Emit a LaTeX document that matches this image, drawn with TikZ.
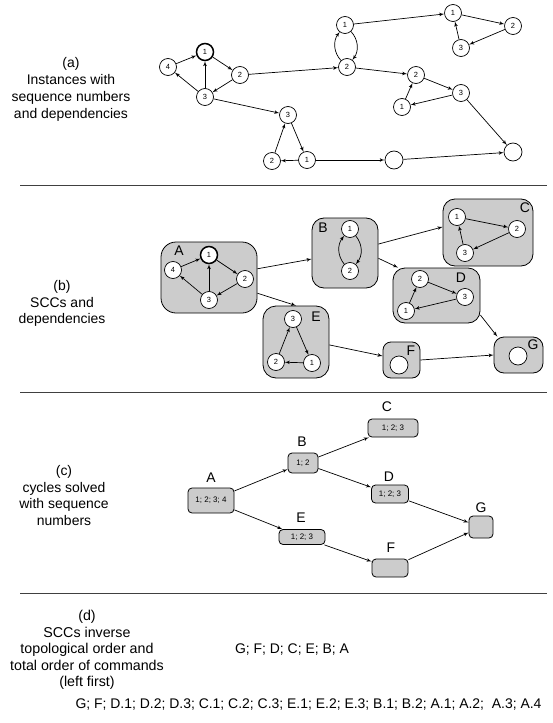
\documentclass[tikz,border=0pt]{standalone}
\usepackage{fontspec}
\setmainfont{Liberation Sans}
\usetikzlibrary{arrows}
\tikzset{vertex/.style = {shape=circle,draw,fill=white,minimum size=17bp,inner sep=0pt,line width=0.7bp,font=\fontsize{7.5}{9}\selectfont}}
\tikzset{rootvertex/.style = {vertex,line width=1.5bp}}
\tikzset{edge/.style = {->,> = latex',line width=0.7bp}}
\tikzset{scc/.style = {shape=rectangle,draw,fill=black!20,rounded corners=12bp,inner sep=0pt,line width=0.8bp}}
\tikzset{solved/.style = {shape=rectangle,draw,fill=black!20,rounded corners=4bp,inner sep=0pt,line width=0.8bp,font=\fontsize{8}{9}\selectfont}}
\tikzset{sectext/.style = {align=center,inner sep=0pt,font=\fontsize{14}{16.8}\selectfont}}
\tikzset{scclabel/.style = {inner sep=0pt,font=\fontsize{14}{17}\selectfont}}
\tikzset{separator/.style = {line width=1bp,black!75}}

\begin{document}
\begin{tikzpicture}[x=1bp,y=-1bp]
\useasboundingbox (0,0) rectangle (553,723);

% (a)
\node[sectext] (texta) at (71,89.5) {(a)\\Instances with\\sequence numbers\\and dependencies};

\node[vertex] (iA4) at (168,67) {4};
\node[rootvertex] (iA1) at (205,52) {1};
\node[vertex] (iA2) at (240,75) {2};
\node[vertex] (iA3) at (205,97) {3};
\node[vertex] (iB1) at (345,25) {1};
\node[vertex] (iB2) at (347,67) {2};
\node[vertex] (iC1) at (453,13) {1};
\node[vertex] (iC2) at (513,26) {2};
\node[vertex] (iC3) at (461,48) {3};
\node[vertex] (iD2) at (416,75) {2};
\node[vertex] (iD3) at (461,93) {3};
\node[vertex] (iD1) at (402,107) {1};
\node[vertex] (iE3) at (288,115) {3};
\node[vertex] (iE2) at (272,161) {2};
\node[vertex] (iE1) at (307,160) {1};
\node[vertex,minimum size=18bp] (iF) at (394,160) {};
\node[vertex,minimum size=18bp] (iG) at (513,152) {};

\draw[edge] (iA4) -- (iA1);
\draw[edge] (iA1) -- (iA2);
\draw[edge] (iA2) -- (iA3);
\draw[edge] (iA3) -- (iA4);
\draw[edge] (iA3) -- (iA1);
\draw[edge] (iA2) -- (iB2);
\draw[edge] (iA3) -- (iE3);
\draw[edge] (iB1) to[bend left=40] (iB2);
\draw[edge] (iB2) to[bend left=40] (iB1);
\draw[edge] (iB1) -- (iC1);
\draw[edge] (iC1) -- (iC2);
\draw[edge] (iC2) -- (iC3);
\draw[edge] (iC3) -- (iC1);
\draw[edge] (iB2) -- (iD2);
\draw[edge] (iD2) -- (iD3);
\draw[edge] (iD3) -- (iD1);
\draw[edge] (iD1) -- (iD2);
\draw[edge] (iE3) -- (iE1);
\draw[edge] (iE1) -- (iE2);
\draw[edge] (iE2) -- (iE3);
\draw[edge] (iE1) -- (iF);
\draw[edge] (iF) -- (iG);
\draw[edge] (iD3) -- (iG);

\draw[separator] (20,185) -- (547,185);

% (b)
\node[sectext] (textb) at (62,303.5) {(b)\\SCCs and\\dependencies};

\node[scc,minimum width=96bp,minimum height=71bp,rounded corners=15bp] (boxA) at (209,277.5) {};
\node[scc,minimum width=66bp,minimum height=70bp] (boxB) at (345,253) {};
\node[scc,minimum width=90bp,minimum height=67bp] (boxC) at (488,232.5) {};
\node[scc,minimum width=87bp,minimum height=55bp] (boxD) at (436.5,295.5) {};
\node[scc,minimum width=66bp,minimum height=72bp,rounded corners=13bp] (boxE) at (296,342) {};
\node[scc,minimum width=37bp,minimum height=36bp,rounded corners=8bp] (boxF) at (401.5,360) {};
\node[scc,minimum width=49bp,minimum height=36bp,rounded corners=10bp] (boxG) at (518.5,355) {};

\node[scclabel] (labA) at (179,251) {A};
\node[scclabel] (labB) at (323,228) {B};
\node[scclabel] (labC) at (525,208) {C};
\node[scclabel] (labD) at (461,278) {D};
\node[scclabel] (labE) at (316,317) {E};
\node[scclabel] (labF) at (411,351) {F};
\node[scclabel] (labG) at (533,345) {G};

\node[rootvertex] (sA1) at (209,255) {1};
\node[vertex] (sA4) at (173,270) {4};
\node[vertex] (sA2) at (245,279) {2};
\node[vertex] (sA3) at (209,300) {3};
\node[vertex] (sB1) at (350,229) {1};
\node[vertex] (sB2) at (350,271) {2};
\node[vertex] (sC1) at (457,217) {1};
\node[vertex] (sC2) at (517,229) {2};
\node[vertex] (sC3) at (465,253) {3};
\node[vertex] (sD2) at (420,279) {2};
\node[vertex] (sD3) at (465,297) {3};
\node[vertex] (sD1) at (406,311) {1};
\node[vertex] (sE3) at (293,319) {3};
\node[vertex] (sE2) at (276,362) {2};
\node[vertex] (sE1) at (312,363) {1};
\node[vertex,minimum size=18bp] (sF) at (399,365) {};
\node[vertex,minimum size=18bp] (sG) at (518,356) {};

\draw[edge] (sA4) -- (sA1);
\draw[edge] (sA1) -- (sA2);
\draw[edge] (sA2) -- (sA3);
\draw[edge] (sA3) -- (sA4);
\draw[edge] (sA3) -- (sA1);
\draw[edge] (sB1) to[bend left=40] (sB2);
\draw[edge] (sB2) to[bend left=40] (sB1);
\draw[edge] (sC1) -- (sC2);
\draw[edge] (sC2) -- (sC3);
\draw[edge] (sC3) -- (sC1);
\draw[edge] (sD2) -- (sD3);
\draw[edge] (sD3) -- (sD1);
\draw[edge] (sD1) -- (sD2);
\draw[edge] (sE3) -- (sE1);
\draw[edge] (sE1) -- (sE2);
\draw[edge] (sE2) -- (sE3);

\draw[edge] (boxA) -- (boxB);
\draw[edge] (boxA.-18) -- (boxE.north);
\draw[edge] (boxB.15) -- (boxC.173);
\draw[edge] (boxB.-9) -- (boxD.144);
\draw[edge] (boxD.-24) -- (boxG.139);
\draw[edge] (boxE.-5) -- (boxF.168);
\draw[edge] (boxF.east) -- (boxG.west);

\draw[separator] (20,392) -- (547,392);

% (c)
\node[sectext] (textc) at (64,495.5) {(c)\\cycles solved\\with sequence\\numbers};

\node[solved,minimum width=46bp,minimum height=25bp] (solA) at (211,500.5) {1; 2; 3; 4};
\node[solved,minimum width=30bp,minimum height=20bp] (solB) at (303,463) {1; 2};
\node[solved,minimum width=50bp,minimum height=18bp] (solC) at (393,428) {1; 2; 3};
\node[solved,minimum width=37bp,minimum height=18bp] (solD) at (390,494) {1; 2; 3};
\node[solved,minimum width=46bp,minimum height=15bp] (solE) at (302,537) {1; 2; 3};
\node[solved,minimum width=36bp,minimum height=18bp] (solF) at (390,568) {};
\node[solved,minimum width=24bp,minimum height=22bp] (solG) at (481,527) {};

\node[scclabel] (solAlab) at (211,478) {A};
\node[scclabel] (solBlab) at (302,442) {B};
\node[scclabel] (solClab) at (387,407) {C};
\node[scclabel] (solDlab) at (389,477) {D};
\node[scclabel] (solElab) at (301,518) {E};
\node[scclabel] (solFlab) at (391,548) {F};
\node[scclabel] (solGlab) at (481,508) {G};

\draw[edge] (solA) -- (solB);
\draw[edge] (solA) -- (solE);
\draw[edge] (solB) -- (solC);
\draw[edge] (solB) -- (solD);
\draw[edge] (solE) -- (solF);
\draw[edge] (solD) -- (solG);
\draw[edge] (solF) -- (solG);

\draw[separator] (20,593) -- (547,593);

% (d)
\node[sectext,font=\fontsize{14.3}{16.5}\selectfont] (textd) at (87,650) {(d)\\SCCs inverse\\topological order and\\total order of commands\\(left first)};
\node[scclabel] (topo) at (292,650) {G; F; D; C; E; B; A};
\node[scclabel] (total) at (308.5,705) {G; F; D.1; D.2; D.3; C.1; C.2; C.3; E.1; E.2; E.3; B.1; B.2; A.1; A.2;\ \ A.3; A.4};

\end{tikzpicture}
\end{document}
